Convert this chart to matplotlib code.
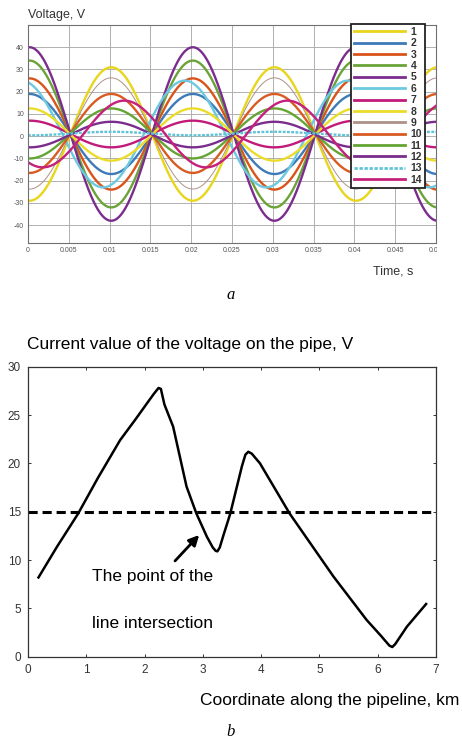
import numpy as np
import matplotlib
matplotlib.use("Agg")
from matplotlib import pyplot as plt
from matplotlib.transforms import Bbox, TransformedBbox

plt.rcParams['font.family'] = ['Liberation Sans', 'DejaVu Sans']
plt.rcParams['axes.unicode_minus'] = False

# ---- panel a: 14 voltage traces, 50 Hz ----
trace_labels = [str(i) for i in range(1, 15)]
trace_amp = [-30, 18, 25, 33, 39, 24, 6, 11.75, -25, -17.75, -11.25, -5.75, -0.8, 15]
trace_peak_t = [0.0002, 0.0002, 0.0002, 0.0002, 0.0002, -0.0008, 0.0002,
                0.0002, 0.0002, 0.0002, 0.0002, 0.0002, 0.0002, 0.0118]
trace_offset = [1, 1, 1, 1, 1, 1, 1, 0.75, 1.25, 1.25, 1.25, 0.75, 1.2, 1]
freq_hz = 50
time_ticks = [0, 0.005, 0.01, 0.015, 0.02, 0.025, 0.03, 0.035, 0.04, 0.045, 0.05]
time_ticklabels = ['0', '0.005', '0.01', '0.015', '0.02', '0.025', '0.03',
                   '0.035', '0.04', '0.045', '0.05']
volt_ticks = [-40, -30, -20, -10, 0, 10, 20, 30, 40]

# ---- panel b: voltage along the pipe ----
pipe_km = [0.18, 0.5, 0.86, 1.2, 1.58, 1.85, 2.04, 2.16, 2.24, 2.28, 2.31, 2.34,
           2.49, 2.62, 2.72, 2.89, 3.07, 3.17, 3.22, 3.25, 3.29, 3.35, 3.47, 3.67,
           3.73, 3.78, 3.84, 3.98, 4.49, 5.24, 5.81, 6.05, 6.2, 6.25, 6.3, 6.5, 6.83]
pipe_volt = [8.2, 11.4, 14.8, 18.5, 22.4, 24.6, 26.2, 27.2, 27.8, 27.7, 26.9, 26.1,
             23.8, 20.3, 17.6, 14.8, 12.4, 11.3, 10.95, 10.9, 11.3, 12.5, 14.8, 19.7,
             20.9, 21.2, 21.0, 20.0, 14.8, 8.3, 3.8, 2.2, 1.15, 1.0, 1.3, 3.1, 5.45]
threshold_volt = 15

colors = ['#e8d51c', '#3d7ab8', '#d9541a', '#6aa338', '#7b2d8e', '#6cc9df', '#c21a7a',
          '#ecdc2a', '#ad9289', '#d85c22', '#64a534', '#7a2d8c', '#5fc3d8', '#c4207c']
widths = [1.7] * 14
widths[8] = 0.7
styles = ['-'] * 14
styles[12] = (0, (1.2, 0.6))

fig = plt.figure(figsize=(4.62, 7.42), dpi=100)

# ================= panel a =================
ax1 = fig.add_axes([28 / 462, 1 - 243 / 742, 408 / 462, 218 / 742])
t = np.linspace(0, 0.05, 1200)
for i in range(len(trace_labels)):
    v = trace_offset[i] + trace_amp[i] * np.cos(2 * np.pi * freq_hz * (t - trace_peak_t[i]))
    ax1.plot(t, v, color=colors[i], lw=widths[i], ls=styles[i], label=trace_labels[i])

ax1.set_xlim(0, 0.05)
ax1.set_ylim(-48, 50)
ax1.set_xticks(time_ticks)
ax1.set_xticklabels(time_ticklabels)
ax1.set_yticks(volt_ticks)
ax1.grid(True, color='#b0b0b0', lw=0.7)
ax1.tick_params(labelsize=5, colors='#555555', length=0, pad=3)
for s in ax1.spines.values():
    s.set_color('#707070')
    s.set_linewidth(0.8)

leg = ax1.legend(loc='upper left', bbox_to_anchor=(0.792, 1.005), fontsize=7.5,
                 frameon=True, fancybox=False, handlelength=4.9, handletextpad=0.5,
                 labelspacing=0.13, borderpad=0.3, borderaxespad=0)
leg.get_frame().set_edgecolor('#222222')
leg.get_frame().set_linewidth(1.3)
leg.get_frame().set_alpha(1)
for txt in leg.get_texts():
    txt.set_fontweight('bold')
    txt.set_color('#333333')
for ln in leg.get_lines():
    ln.set_linewidth(2)

# clip the last tick label as in the cropped original
last = ax1.get_xticklabels()[-1]
last.set_clip_box(TransformedBbox(Bbox([[-0.1, -0.5], [1.002, 1.0]]), ax1.transAxes))
last.set_clip_on(True)

fig.text(28 / 462, 1 - 15 / 742, 'Voltage, V', fontsize=9, color='#333333', va='center')
fig.text(393 / 462, 1 - 272 / 742, 'Time, s', fontsize=9, color='#333333',
         ha='center', va='center')
fig.text(0.5, 1 - 295 / 742, 'a', fontsize=12, family='Liberation Serif',
         style='italic', ha='center', va='center')

# ================= panel b =================
ax2 = fig.add_axes([28 / 462, 1 - 656.7 / 742, 408 / 462, 290 / 742])
ax2.plot(pipe_km, pipe_volt, color='black', lw=1.8, solid_joinstyle='round')
ax2.axhline(threshold_volt, color='black', lw=2.2, ls=(0, (3.0, 1.6)))
ax2.set_xlim(0, 7)
ax2.set_ylim(0, 30)
ax2.set_xticks(range(0, 8))
ax2.set_yticks(range(0, 31, 5))
ax2.tick_params(direction='in', top=True, right=True, length=2.5, width=0.7,
                labelsize=8.5, colors='#333333', pad=5)
for s in ax2.spines.values():
    s.set_color('#333333')
    s.set_linewidth(0.9)

ax2.annotate('', xy=(2.97, 12.8), xytext=(2.49, 9.7),
             arrowprops=dict(arrowstyle='-|>,head_length=0.6,head_width=0.3',
                             color='black', lw=2))
fig.text(92 / 462, 1 - 577 / 742, 'The point of the', fontsize=12.5, va='center')
fig.text(92 / 462, 1 - 623 / 742, 'line intersection', fontsize=12.5, va='center')

fig.text(27 / 462, 1 - 345 / 742, 'Current value of the voltage on the pipe, V',
         fontsize=12.5, va='center')
fig.text(459 / 462, 1 - 700 / 742, 'Coordinate along the pipeline, km',
         fontsize=12.5, ha='right', va='center')
fig.text(0.5, 1 - 732 / 742, 'b', fontsize=12, family='Liberation Serif',
         style='italic', ha='center', va='center')

fig.savefig('out.png', dpi=100)
